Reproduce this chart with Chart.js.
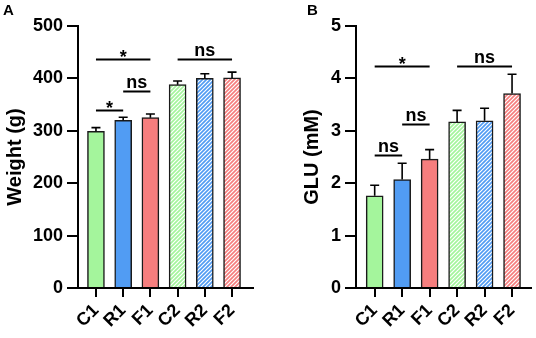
<!DOCTYPE html>
<html>
<head>
<meta charset="utf-8">
<script src="https://cdn.jsdelivr.net/npm/chart.js@4.4.0/dist/chart.umd.min.js"></script>
<style>
  body { margin: 0; background: #fff; }
  #wrap { position: relative; width: 536px; height: 338px; }
  .panel { position: absolute; top: 0; width: 268px; height: 338px; }
  .tag { position: absolute; top: 1px; font: bold 15px Arial, "Liberation Sans", sans-serif; color: #000; }
</style>
</head>
<body>
<div id="wrap">
  <div class="panel" style="left:0"><canvas id="chartA" width="268" height="338"></canvas></div>
  <div class="panel" style="left:268px"><canvas id="chartB" width="268" height="338"></canvas></div>
  <div class="tag" style="left:3px">A</div>
  <div class="tag" style="left:307px">B</div>
</div>
<script>
const groups = ["C1", "R1", "F1", "C2", "R2", "F2"];

// panel A - body weight
const weightMean = [299, 320, 325, 388, 400, 401];
const weightSem = [7, 6, 7, 7, 9, 11];
const weightTicks = [0, 100, 200, 300, 400, 500];
// [from group, to group, bracket height, label]
const weightSig = [[0, 1, 340, "*"], [1, 2, 376, "ns"], [0, 2, 437, "*"], [3, 5, 437, "ns"]];

// panel B - glucose
const gluMean = [1.76, 2.07, 2.46, 3.17, 3.19, 3.71];
const gluSem = [0.2, 0.31, 0.18, 0.22, 0.24, 0.37];
const gluTicks = [0, 1, 2, 3, 4, 5];
const gluSig = [[0, 1, 2.54, "ns"], [1, 2, 3.13, "ns"], [0, 2, 4.24, "*"], [3, 5, 4.24, "ns"]];

const baseColors = ["#a4f59c", "#519cf3", "#f67e7e"];
const FONT = 'Arial, "Liberation Sans", sans-serif';

function stripes(color) {
  const c = document.createElement("canvas");
  const s = 4;
  c.width = s; c.height = s;
  const g = c.getContext("2d");
  g.fillStyle = color;
  g.fillRect(0, 0, s, s);
  g.strokeStyle = "#fff";
  g.lineWidth = 1.2;
  g.beginPath();
  g.moveTo(0, s); g.lineTo(s, 0);
  g.moveTo(-1, 1); g.lineTo(1, -1);
  g.moveTo(s - 1, s + 1); g.lineTo(s + 1, s - 1);
  g.stroke();
  return g.createPattern(c, "repeat");
}

const fills = baseColors.concat(baseColors.map(stripes));

// error bars (upwards only) and significance brackets
const annotate = {
  id: "annotate",
  afterDatasetsDraw(chart, args, opts) {
    const { ctx } = chart;
    const x = chart.scales.x, y = chart.scales.y;
    ctx.save();
    ctx.strokeStyle = "#000";
    ctx.lineWidth = 1.6;
    opts.means.forEach((m, i) => {
      const px = x.getPixelForValue(i + 1);
      const y0 = y.getPixelForValue(m);
      const y1 = y.getPixelForValue(m + opts.sems[i]);
      ctx.beginPath();
      ctx.moveTo(px, y0);
      ctx.lineTo(px, y1);
      ctx.moveTo(px - 4.5, y1);
      ctx.lineTo(px + 4.5, y1);
      ctx.stroke();
    });
    ctx.lineWidth = 2;
    ctx.fillStyle = "#000";
    ctx.textAlign = "center";
    ctx.textBaseline = "alphabetic";
    ctx.font = "bold 18px " + FONT;
    opts.sig.forEach(([a, b, v, label]) => {
      const xa = x.getPixelForValue(a + 1);
      const xb = x.getPixelForValue(b + 1);
      const py = Math.round(y.getPixelForValue(v)) + 0.5;
      ctx.beginPath();
      ctx.moveTo(xa, py);
      ctx.lineTo(xb, py);
      ctx.stroke();
      ctx.fillText(label, (xa + xb) / 2, label === "*" ? py + 3 : py - 4);
    });
    ctx.restore();
  }
};

function makeChart(id, means, sems, ticks, sig, title, layout) {
  const ctx = document.getElementById(id).getContext("2d");
  return new Chart(ctx, {
    type: "bar",
    data: {
      datasets: [{
        data: means.map((v, i) => ({ x: i + 1, y: v })),
        backgroundColor: fills,
        borderColor: "#1a1a1a",
        borderWidth: 1.5,
        barThickness: 17
      }]
    },
    options: {
      responsive: false,
      animation: false,
      devicePixelRatio: 1,
      layout: { padding: { left: 0, top: 26, right: layout.right, bottom: 0 } },
      plugins: {
        legend: { display: false },
        tooltip: { enabled: false },
        annotate: { means, sems, sig }
      },
      scales: {
        x: {
          type: "linear",
          min: layout.xmin,
          max: layout.xmax,
          offset: false,
          afterBuildTicks: (s) => { s.ticks = groups.map((g, i) => ({ value: i + 1 })); },
          afterFit: (s) => { s.height = 50; },
          ticks: {
            callback: (v, i) => groups[i],
            autoSkip: false,
            minRotation: 45,
            maxRotation: 45,
            padding: 3,
            color: "#000",
            font: { family: FONT, size: 18, weight: "bold" }
          },
          grid: { drawOnChartArea: false, offset: false, tickLength: 9, color: "#000", lineWidth: 2 },
          border: { color: "#000", width: 2 }
        },
        y: {
          min: ticks[0],
          max: ticks[ticks.length - 1],
          afterBuildTicks: (s) => { s.ticks = ticks.map((v) => ({ value: v })); },
          afterFit: (s) => { s.width = layout.left; },
          ticks: {
            padding: 4,
            color: "#000",
            font: { family: FONT, size: 18, weight: "bold" }
          },
          grid: { drawOnChartArea: false, tickLength: 11, color: "#000", lineWidth: 2 },
          border: { color: "#000", width: 2 },
          title: {
            display: true,
            text: title,
            color: "#000",
            padding: { top: layout.titlePad, bottom: 0 },
            font: { family: FONT, size: 20, weight: "bold" }
          }
        }
      }
    },
    plugins: [annotate]
  });
}

makeChart("chartA", weightMean, weightSem, weightTicks, weightSig, "Weight (g)",
  { left: 78, right: 15, xmin: 0.34, xmax: 6.77, titlePad: 3 });
makeChart("chartB", gluMean, gluSem, gluTicks, gluSig, "GLU (mM)",
  { left: 88, right: 5, xmin: 0.32, xmax: 6.69, titlePad: 32 });
</script>
</body>
</html>
